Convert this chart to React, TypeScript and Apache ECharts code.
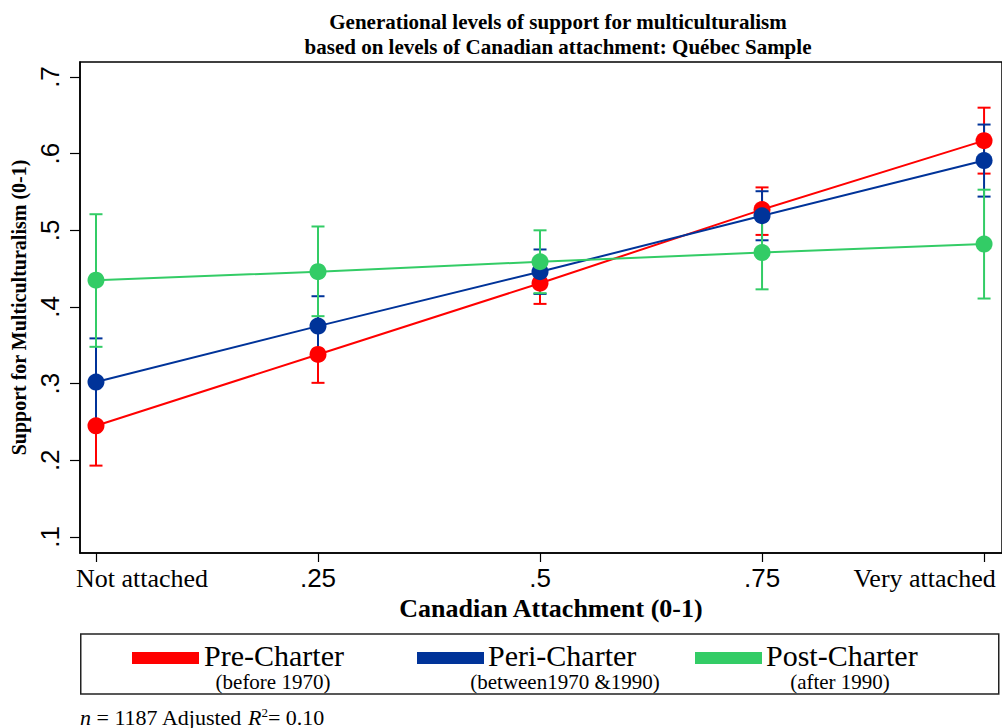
import React, { useEffect, useRef } from "react";
import * as echarts from "echarts";

// ---- data ----
const xValues = [0, 0.25, 0.5, 0.75, 1];
const xTickLabels = ["Not attached", ".25", ".5", ".75", "Very attached"];
const yTickValues = [0.1, 0.2, 0.3, 0.4, 0.5, 0.6, 0.7];
const yTickLabels = [".1", ".2", ".3", ".4", ".5", ".6", ".7"];

const preMean = [0.245, 0.338, 0.431, 0.527, 0.617];
const preLow = [0.193, 0.301, 0.404, 0.494, 0.574];
const preHigh = [0.297, 0.375, 0.458, 0.556, 0.66];

const periMean = [0.302, 0.375, 0.446, 0.519, 0.591];
const periLow = [0.245, 0.336, 0.417, 0.487, 0.544];
const periHigh = [0.359, 0.414, 0.475, 0.551, 0.638];

const postMean = [0.435, 0.446, 0.459, 0.471, 0.482];
const postLow = [0.348, 0.388, 0.418, 0.423, 0.411];
const postHigh = [0.521, 0.505, 0.5, 0.519, 0.553];

const seriesNames = ["Pre-Charter", "Peri-Charter", "Post-Charter"];
const seriesNotes = ["(before 1970)", "(between1970 &1990)", "(after 1990)"];

const titleText =
  "Generational levels of support for multiculturalism\nbased on levels of Canadian attachment: Québec Sample";
const xAxisTitle = "Canadian Attachment (0-1)";
const yAxisTitle = "Support for Multiculturalism (0-1)";

const COLORS = ["#ff0000", "#003399", "#33cc66"];
const SERIF = "'Liberation Serif', 'Times New Roman', serif";
const SANS = "'Liberation Sans', Arial, sans-serif";

export default function App() {
  const ref = useRef<HTMLDivElement>(null);

  useEffect(() => {
    if (!ref.current) return;
    const chart = echarts.init(ref.current, undefined, { renderer: "svg" });

    const groups = [
      { name: seriesNames[0], mean: preMean, low: preLow, high: preHigh, color: COLORS[0] },
      { name: seriesNames[1], mean: periMean, low: periLow, high: periHigh, color: COLORS[1] },
      { name: seriesNames[2], mean: postMean, low: postLow, high: postHigh, color: COLORS[2] },
    ];

    const series: any[] = [];
    groups.forEach((g) => {
      series.push({
        type: "custom",
        name: g.name + " CI",
        silent: true,
        data: xValues.map((x, i) => [x, g.low[i], g.high[i]]),
        encode: { x: 0, y: [1, 2] },
        renderItem: (params: any, api: any) => {
          const x = api.value(0);
          const lo = api.coord([x, api.value(1)]);
          const hi = api.coord([x, api.value(2)]);
          const hw = 6.5;
          const st = { stroke: g.color, lineWidth: 2, fill: "none" };
          return {
            type: "group",
            children: [
              { type: "line", shape: { x1: lo[0], y1: lo[1], x2: hi[0], y2: hi[1] }, style: st },
              { type: "line", shape: { x1: lo[0] - hw, y1: lo[1], x2: lo[0] + hw, y2: lo[1] }, style: st },
              { type: "line", shape: { x1: hi[0] - hw, y1: hi[1], x2: hi[0] + hw, y2: hi[1] }, style: st },
            ],
          };
        },
      });
      series.push({
        type: "line",
        name: g.name,
        data: xValues.map((x, i) => [x, g.mean[i]]),
        symbol: "circle",
        symbolSize: 17,
        showSymbol: true,
        lineStyle: { color: g.color, width: 2 },
        itemStyle: { color: g.color },
      });
    });

    // legend layout
    const legendItems = [
      { swX: 132, txX: 204, subX: 273 },
      { swX: 417, txX: 488, subX: 565 },
      { swX: 695, txX: 766, subX: 840 },
    ];
    const graphics: any[] = [
      {
        type: "rect",
        shape: { x: 80.75, y: 634, width: 918, height: 60 },
        style: { fill: "none", stroke: "#222", lineWidth: 1.5 },
      },
    ];
    legendItems.forEach((it, i) => {
      graphics.push({
        type: "rect",
        shape: { x: it.swX, y: 652, width: 67, height: 12 },
        style: { fill: COLORS[i] },
      });
      graphics.push({
        type: "text",
        x: it.txX,
        y: 655.5,
        style: {
          text: seriesNames[i],
          font: `30px ${SERIF}`,
          fill: "#000",
          textAlign: "left",
          textVerticalAlign: "middle",
        },
      });
      graphics.push({
        type: "text",
        x: it.subX,
        y: 682,
        style: {
          text: seriesNotes[i],
          font: `21px ${SERIF}`,
          fill: "#000",
          textAlign: "center",
          textVerticalAlign: "middle",
        },
      });
    });
    graphics.push({
      type: "text",
      x: 80,
      y: 717,
      style: {
        text: "{i|n} = 1187 Adjusted {i|R}{s|2}= 0.10",
        font: `22px ${SERIF}`,
        fill: "#000",
        textAlign: "left",
        textVerticalAlign: "middle",
        rich: {
          i: { fontStyle: "italic", fontFamily: SERIF, fontSize: 22 },
          s: { fontFamily: SERIF, fontSize: 13, verticalAlign: "top", padding: [0, 0, 8, 0] },
        },
      },
    });

    const option: any = {
      animation: false,
      backgroundColor: "#fff",
      title: {
        text: titleText,
        left: 553,
        top: 4,
        textAlign: "center",
        textStyle: {
          fontFamily: SERIF,
          fontWeight: "bold",
          fontSize: 21,
          lineHeight: 25,
          color: "#000",
        },
      },
      grid: {
        left: 80,
        top: 62,
        right: -3,
        bottom: 175,
        show: true,
        borderColor: "#000",
        borderWidth: 1.5,
        backgroundColor: "transparent",
      },
      xAxis: {
        type: "value",
        min: -0.018,
        max: 1.0202,
        axisLine: { show: true, onZero: false, lineStyle: { color: "#000", width: 1.5 } },
        axisTick: {
          show: true,
          customValues: xValues,
          length: 9,
          inside: false,
          lineStyle: { color: "#000", width: 1.2 },
        },
        splitLine: { show: false },
        axisLabel: {
          customValues: xValues,
          margin: 12,
          formatter: (v: number) => {
            let idx = 0;
            xValues.forEach((x, i) => {
              if (Math.abs(x - v) < 1e-6) idx = i;
            });
            const t = xTickLabels[idx];
            if (idx === 0) return `{first|${t}}`;
            if (idx === xValues.length - 1) return `{last|${t}}`;
            return `{num|${t}}`;
          },
          rich: {
            first: { fontFamily: SERIF, fontSize: 26, color: "#000", padding: [0, 0, 0, 92] },
            last: { fontFamily: SERIF, fontSize: 26, color: "#000", padding: [0, 119, 0, 0] },
            num: { fontFamily: SANS, fontSize: 26, color: "#000" },
          },
        },
        name: xAxisTitle,
        nameLocation: "middle",
        nameGap: 42,
        nameTextStyle: {
          fontFamily: SERIF,
          fontWeight: "bold",
          fontSize: 26,
          color: "#000",
          padding: [0, 0, 0, 20],
        },
      },
      yAxis: {
        type: "value",
        min: 0.079,
        max: 0.7196,
        axisLine: { show: true, onZero: false, lineStyle: { color: "#000", width: 1.5 } },
        axisTick: {
          show: true,
          customValues: yTickValues,
          length: 10,
          lineStyle: { color: "#000", width: 1.2 },
        },
        splitLine: { show: false },
        axisLabel: {
          customValues: yTickValues,
          rotate: 90,
          margin: 17,
          fontFamily: SANS,
          fontSize: 26,
          color: "#000",
          formatter: (v: number) => {
            let idx = 0;
            yTickValues.forEach((y, i) => {
              if (Math.abs(y - v) < 1e-6) idx = i;
            });
            return yTickLabels[idx];
          },
        },
        name: yAxisTitle,
        nameLocation: "middle",
        nameGap: 48,
        nameTextStyle: {
          fontFamily: SERIF,
          fontWeight: "bold",
          fontSize: 20,
          color: "#000",
        },
      },
      graphic: graphics,
      series,
    };

    chart.setOption(option);
    return () => chart.dispose();
  }, []);

  return (
    <div
      ref={ref}
      style={{ position: "absolute", left: 0, top: 0, width: 1002, height: 728, background: "#fff" }}
    />
  );
}
